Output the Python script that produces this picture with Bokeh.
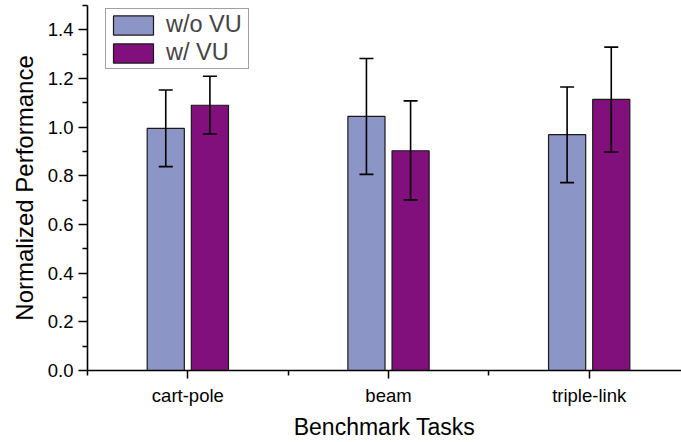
from bokeh.plotting import figure
from bokeh.models import (ColumnDataSource, Range1d, FixedTicker, Whisker, TeeHead,
                          Legend, LegendItem, CustomJSTickFormatter)
from bokeh.transform import dodge
from bokeh.embed import file_html
from bokeh.resources import INLINE

# ---- data ----
tasks = ["cart-pole", "beam", "triple-link"]
task_pos = [1, 2, 3]
without_vu = [0.995, 1.044, 0.969]
without_lower = [0.838, 0.806, 0.772]
without_upper = [1.153, 1.282, 1.165]
with_vu = [1.090, 0.903, 1.114]
with_lower = [0.972, 0.701, 0.898]
with_upper = [1.209, 1.108, 1.329]
y_ticks = [0.0, 0.2, 0.4, 0.6, 0.8, 1.0, 1.2, 1.4]
y_minor = [0.1, 0.3, 0.5, 0.7, 0.9, 1.1, 1.3, 1.5]
x_minor = [0.5, 1.5, 2.5, 3.5]

FONT = "Liberation Sans"
C_WO = "#8C96C6"
C_W = "#810F7C"
OFF = 0.11
BW = 0.185

src = ColumnDataSource(dict(x=task_pos, wo=without_vu, wo_lo=without_lower, wo_hi=without_upper,
                            w=with_vu, w_lo=with_lower, w_hi=with_upper))

p = figure(width=681, height=442, output_backend="svg", toolbar_location=None,
           x_range=Range1d(0.5, 3.46), y_range=Range1d(0, 1.5),
           min_border_left=87, min_border_right=0, min_border_top=5, min_border_bottom=72)
p.outline_line_color = None
p.xgrid.visible = False
p.ygrid.visible = False
p.background_fill_color = "white"

r1 = p.vbar(x=dodge("x", -OFF), top="wo", width=BW, source=src,
            fill_color=C_WO, line_color="#1a1a1a", line_width=1.2)
r2 = p.vbar(x=dodge("x", OFF), top="w", width=BW, source=src,
            fill_color=C_W, line_color="#1a1a1a", line_width=1.2)

for off, lo, hi in [(-OFF, "wo_lo", "wo_hi"), (OFF, "w_lo", "w_hi")]:
    wk = Whisker(base=dodge("x", off), lower=lo, upper=hi, source=src, level="overlay",
                 line_color="black", line_width=1.6,
                 upper_head=TeeHead(size=14, line_width=1.6, line_color="black"),
                 lower_head=TeeHead(size=14, line_width=1.6, line_color="black"))
    p.add_layout(wk)

# axes
for ax in (p.xaxis[0], p.yaxis[0]):
    ax.axis_line_width = 1.6
    ax.axis_line_color = "black"
    ax.major_tick_line_width = 1.5
    ax.minor_tick_line_width = 1.5
    ax.major_tick_line_color = "black"
    ax.minor_tick_line_color = "black"
    ax.major_tick_in = 0
    ax.minor_tick_in = 0
    ax.major_label_text_font = FONT
    ax.major_label_text_font_size = "18.5px"
    ax.major_label_text_color = "black"
    ax.axis_label_text_font = FONT
    ax.axis_label_text_font_style = "normal"
    ax.axis_label_text_color = "black"

p.yaxis.ticker = FixedTicker(ticks=y_ticks, minor_ticks=y_minor)
p.yaxis.formatter = CustomJSTickFormatter(code="return tick.toFixed(1);")
p.yaxis.major_tick_out = 9
p.yaxis.minor_tick_out = 5
p.yaxis.major_label_standoff = 5
p.yaxis.axis_label = "Normalized Performance"
p.yaxis.axis_label_text_font_size = "24px"
p.yaxis.axis_label_standoff = 7

p.xaxis.ticker = FixedTicker(ticks=task_pos, minor_ticks=x_minor)
p.xaxis.major_label_overrides = {pos: name for pos, name in zip(task_pos, tasks)}
p.xaxis.major_tick_out = 8
p.xaxis.minor_tick_out = 5
p.xaxis.major_label_standoff = 6
p.xaxis.axis_label = "Benchmark Tasks"
p.xaxis.axis_label_text_font_size = "23px"
p.xaxis.axis_label_standoff = 5

legend = Legend(items=[LegendItem(label="w/o VU", renderers=[r1]),
                       LegendItem(label="w/ VU", renderers=[r2])],
                location=(18, 301), margin=0, padding=2, spacing=1,
                glyph_width=50, glyph_height=24, label_standoff=8, label_width=80,
                label_text_font=FONT, label_text_font_size="23.5px",
                border_line_color="#444444", border_line_width=1,
                background_fill_alpha=1)
p.add_layout(legend)

open("out.html", "w").write(file_html(p, INLINE))
